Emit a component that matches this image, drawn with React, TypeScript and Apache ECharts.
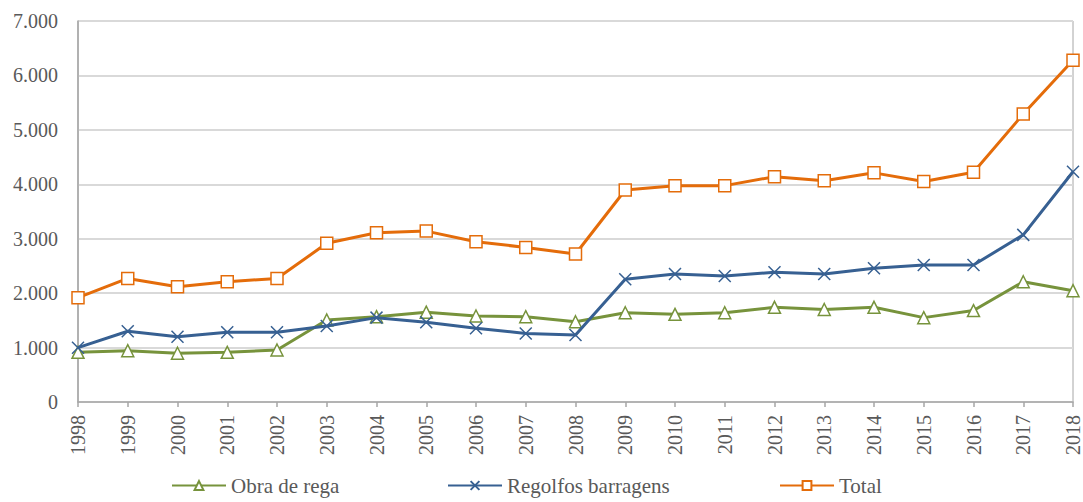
import React, { useEffect, useRef } from "react";
import * as echarts from "echarts";

const years = ["1998","1999","2000","2001","2002","2003","2004","2005","2006","2007","2008","2009","2010","2011","2012","2013","2014","2015","2016","2017","2018"];
const obraDeRega = [913, 943, 895, 913, 955, 1507, 1567, 1650, 1580, 1567, 1475, 1640, 1610, 1640, 1740, 1700, 1740, 1550, 1680, 2210, 2045];
const regolfosBarragens = [998, 1300, 1200, 1280, 1280, 1396, 1550, 1464, 1354, 1260, 1230, 2254, 2350, 2315, 2383, 2350, 2456, 2517, 2517, 3070, 4230];
const total = [1916, 2270, 2118, 2210, 2270, 2915, 3110, 3140, 2945, 2840, 2720, 3895, 3975, 3975, 4140, 4066, 4210, 4050, 4220, 5290, 6280];

const FONT = "Liberation Serif";
const GREEN = "#77933C";
const BLUE = "#376092";
const ORANGE = "#E46C0A";
const LABEL = "#595959";

export default function App() {
  const ref = useRef<HTMLDivElement>(null);
  useEffect(() => {
    if (!ref.current) return;
    const chart = echarts.init(ref.current, null, { renderer: "svg" });
    const legendText = { fontFamily: FONT, fontSize: 21, color: LABEL };
    const mkLegend = (name: string, left: number) => ({
      data: [name],
      left,
      top: 472,
      padding: 3,
      itemWidth: 54,
      itemHeight: 11,
      textStyle: legendText,
      itemGap: 2,
    });
    chart.setOption({
      animation: false,
      backgroundColor: "#ffffff",
      textStyle: { fontFamily: FONT, fontSize: 20 },
      legend: [
        mkLegend("Obra de rega", 168),
        mkLegend("Regolfos barragens", 444),
        mkLegend("Total", 776),
      ],
      grid: {
        left: 78,
        right: 9,
        top: 21,
        bottom: 100,
        show: true,
        borderColor: "#A6A6A6",
        borderWidth: 1,
      },
      xAxis: {
        type: "category",
        data: years,
        boundaryGap: false,
        axisLine: { lineStyle: { color: "#A6A6A6", width: 1.5 } },
        axisTick: { show: true, length: 5, lineStyle: { color: "#A6A6A6", width: 1.5 } },
        axisLabel: {
          rotate: 90,
          interval: 0,
          fontFamily: FONT,
          fontSize: 20,
          color: LABEL,
          margin: 13,
        },
      },
      yAxis: {
        type: "value",
        min: 0,
        max: 7000,
        interval: 1000,
        axisLine: { show: true, lineStyle: { color: "#A6A6A6", width: 1.5 } },
        axisTick: { show: false },
        splitLine: { lineStyle: { color: "#D9D9D9", width: 2 } },
        axisLabel: {
          fontFamily: FONT,
          fontSize: 20,
          color: LABEL,
          margin: 20,
          formatter: (v: number) => (v === 0 ? "0" : v / 1000 + ".000"),
        },
      },
      series: [
        {
          name: "Obra de rega",
          type: "line",
          data: obraDeRega,
          symbol: "triangle",
          symbolSize: 12,
          showAllSymbol: true,
          lineStyle: { color: GREEN, width: 3 },
          itemStyle: { color: "#ffffff", borderColor: GREEN, borderWidth: 1.5 },
          z: 2,
        },
        {
          name: "Regolfos barragens",
          type: "line",
          data: regolfosBarragens,
          symbol: "path://M0,0L10,10M10,0L0,10",
          symbolSize: 12,
          showAllSymbol: true,
          lineStyle: { color: BLUE, width: 3 },
          itemStyle: { color: "none", borderColor: BLUE, borderWidth: 1.5 },
          z: 3,
        },
        {
          name: "Total",
          type: "line",
          data: total,
          symbol: "rect",
          symbolSize: 12,
          showAllSymbol: true,
          lineStyle: { color: ORANGE, width: 3 },
          itemStyle: { color: "#ffffff", borderColor: ORANGE, borderWidth: 1.5 },
          z: 4,
        },
      ],
    });
    return () => chart.dispose();
  }, []);
  return (
    <div
      ref={ref}
      style={{ position: "fixed", left: 0, top: 0, width: 1083, height: 502 }}
    />
  );
}
